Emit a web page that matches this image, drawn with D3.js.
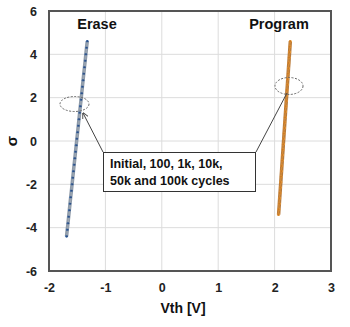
<!DOCTYPE html>
<html><head><meta charset="utf-8">
<script src="https://cdn.jsdelivr.net/npm/d3@7"></script>
<style>body{margin:0;background:#fff}text{font-family:"Liberation Sans",Arial,sans-serif;font-weight:bold}</style>
</head><body><svg id="c" width="350" height="327"></svg>
<script>
const xTicks = [-2,-1,0,1,2,3];
const yTicks = [-6,-4,-2,0,2,4,6];
const eraseSigma = [-4.4,-4.1,-3.8,-3.5,-3.2,-2.9,-2.6,-2.3,-2.0,-1.7,-1.4,-1.1,-0.8,-0.5,-0.2,0.1,0.4,0.7,1.0,1.3,1.6,1.9,2.2,2.5,2.8,3.1,3.4,3.7,4.0,4.3,4.6];
const eraseInitial = [-1.689,-1.677,-1.664,-1.652,-1.640,-1.628,-1.616,-1.603,-1.591,-1.579,-1.567,-1.555,-1.542,-1.530,-1.518,-1.506,-1.493,-1.481,-1.469,-1.457,-1.445,-1.432,-1.420,-1.408,-1.396,-1.384,-1.371,-1.359,-1.347,-1.335,-1.322];
const erase100k = [-1.682,-1.671,-1.660,-1.648,-1.633,-1.624,-1.611,-1.599,-1.588,-1.574,-1.563,-1.550,-1.539,-1.526,-1.514,-1.503,-1.489,-1.478,-1.466,-1.452,-1.441,-1.429,-1.416,-1.404,-1.393,-1.379,-1.368,-1.356,-1.344,-1.331,-1.318];
const progSigma = [-3.4,-3.15,-2.9,-2.65,-2.4,-2.15,-1.9,-1.65,-1.4,-1.15,-0.9,-0.65,-0.4,-0.15,0.1,0.35,0.6,0.85,1.1,1.35,1.6,1.85,2.1,2.35,2.6,2.85,3.1,3.35,3.6,3.85,4.1,4.35,4.6];
const progInitial = [2.071,2.077,2.084,2.090,2.097,2.103,2.110,2.116,2.123,2.129,2.136,2.142,2.149,2.155,2.162,2.168,2.175,2.181,2.188,2.194,2.201,2.207,2.214,2.220,2.227,2.233,2.240,2.246,2.253,2.259,2.266,2.272,2.279];
const prog100k = [2.066,2.074,2.080,2.087,2.093,2.100,2.106,2.113,2.119,2.126,2.132,2.139,2.145,2.152,2.158,2.165,2.171,2.178,2.184,2.191,2.197,2.204,2.210,2.217,2.223,2.230,2.236,2.243,2.249,2.256,2.262,2.269,2.275];

const svg = d3.select("#c");
const L=49, R=331, T=11, B=271;
const x = d3.scaleLinear().domain([-2,3]).range([L,R]);
const y = d3.scaleLinear().domain([-6,6]).range([B,T]);

// grid
svg.append("g").selectAll("line").data(xTicks.slice(1,-1)).join("line")
  .attr("x1",d=>x(d)).attr("x2",d=>x(d)).attr("y1",T).attr("y2",B).attr("stroke","#dcdcdc");
svg.append("g").selectAll("line").data(yTicks.slice(1,-1)).join("line")
  .attr("x1",L).attr("x2",R).attr("y1",d=>y(d)).attr("y2",d=>y(d)).attr("stroke","#dcdcdc");

// axes
const fmt = d=>String(d);
const xa = svg.append("g").attr("transform",`translate(0,${B})`)
  .call(d3.axisBottom(x).tickValues(xTicks).tickSize(0).tickPadding(12).tickFormat(fmt));
xa.select(".domain").remove();
xa.selectAll("text").attr("font-size",12.5).attr("fill","#222").style("font-family","Liberation Sans, Arial").style("font-weight","bold");
const ya = svg.append("g").attr("transform",`translate(${L},0)`)
  .call(d3.axisLeft(y).tickValues(yTicks).tickSize(0).tickPadding(12).tickFormat(fmt));
ya.select(".domain").remove();
ya.selectAll("text").attr("font-size",12.5).attr("fill","#222").style("font-family","Liberation Sans, Arial").style("font-weight","bold");

svg.append("rect").attr("x",L).attr("y",T).attr("width",R-L).attr("height",B-T)
  .attr("fill","none").attr("stroke","#555").attr("stroke-width",2);

// series
function series(sig, vals, lineColor, dotColor, lw, r){
  const data = sig.map((s,i)=>[vals[i],s]);
  svg.append("path").datum(data).attr("fill","none").attr("stroke",lineColor).attr("stroke-width",lw)
    .attr("d",d3.line().x(d=>x(d[0])).y(d=>y(d[1])));
  svg.append("g").selectAll("circle").data(data).join("circle")
    .attr("cx",d=>x(d[0])).attr("cy",d=>y(d[1])).attr("r",r).attr("fill",dotColor);
}
series(eraseSigma, eraseInitial, "#8e9aa8", "#3a6aa8", 3.5, 1.3);
series(eraseSigma, erase100k, "#9aa5b2", "#2c4f86", 1.2, 1.0);
series(progSigma, progInitial, "#b87a3c", "#f0a038", 3.5, 1.4);
series(progSigma, prog100k, "#d48a34", "#c87a2a", 1.2, 1.0);

// labels
svg.append("text").attr("x",97).attr("y",29).attr("text-anchor","middle").attr("font-size",14.5).attr("fill","#111").text("Erase");
svg.append("text").attr("x",279).attr("y",29).attr("text-anchor","middle").attr("font-size",14.5).attr("fill","#111").text("Program");

// ellipses
svg.append("ellipse").attr("cx",74.5).attr("cy",104).attr("rx",14.5).attr("ry",7.5)
  .attr("fill","none").attr("stroke","#666").attr("stroke-dasharray","2,1.5").attr("stroke-width",1);
svg.append("ellipse").attr("cx",289).attr("cy",86).attr("rx",14).attr("ry",8.5)
  .attr("fill","none").attr("stroke","#666").attr("stroke-dasharray","2,1.5").attr("stroke-width",1);

// arrows
svg.append("defs").append("marker").attr("id","ah").attr("viewBox","0 0 10 10").attr("refX",9).attr("refY",5)
  .attr("markerWidth",6).attr("markerHeight",6).attr("orient","auto")
  .append("path").attr("d","M0,0 L10,5 L0,10").attr("fill","none").attr("stroke","#444").attr("stroke-width",1.5);
svg.append("line").attr("x1",103).attr("y1",152).attr("x2",83).attr("y2",113).attr("stroke","#444").attr("stroke-width",1).attr("marker-end","url(#ah)");
svg.append("line").attr("x1",256).attr("y1",152).attr("x2",287).attr("y2",93).attr("stroke","#444").attr("stroke-width",1);

// box
svg.append("rect").attr("x",103.5).attr("y",152.5).attr("width",152).attr("height",39).attr("fill","#fff").attr("stroke","#333").attr("stroke-width",1);
svg.append("text").attr("x",110).attr("y",168).attr("font-size",12.5).attr("fill","#111").text("Initial, 100, 1k, 10k,");
svg.append("text").attr("x",110).attr("y",185).attr("font-size",12.5).attr("fill","#111").text("50k and 100k cycles");

// axis titles
svg.append("text").attr("x",183).attr("y",313).attr("text-anchor","middle").attr("font-size",14).attr("fill","#111").text("Vth [V]");
svg.append("text").attr("transform","translate(17,141) rotate(-90)").attr("text-anchor","middle").attr("font-size",15).attr("fill","#111").text("σ");
</script></body></html>
